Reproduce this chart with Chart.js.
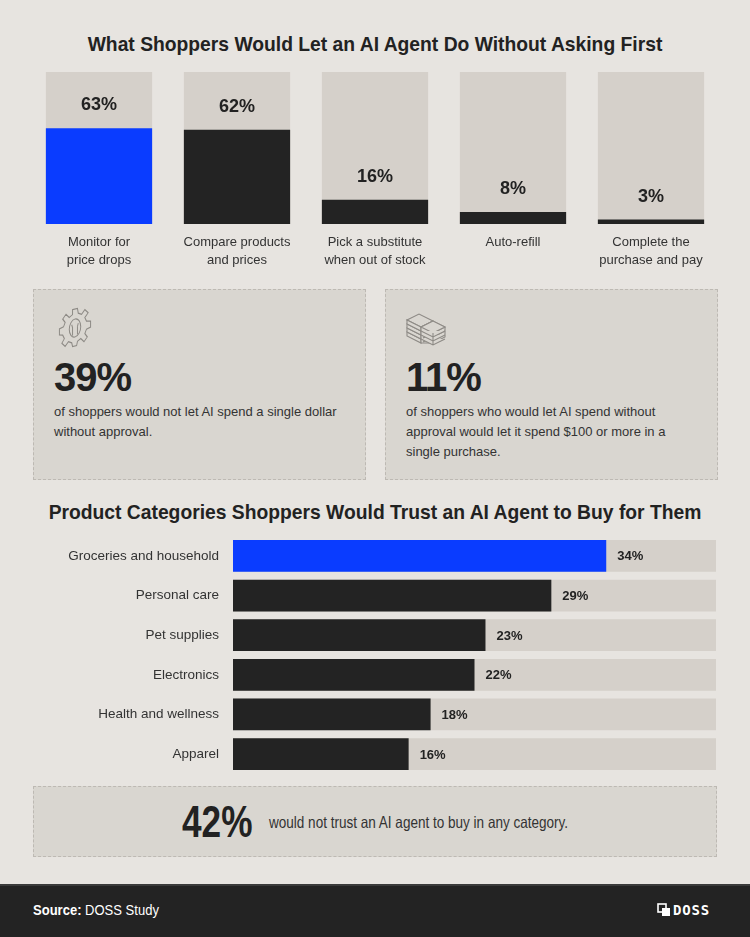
<!DOCTYPE html>
<html>
<head>
<meta charset="utf-8">
<script src="https://cdn.jsdelivr.net/npm/chart.js@4.4.1/dist/chart.umd.min.js"></script>
<style>
  html, body { margin:0; padding:0; }
  body { width:750px; height:937px; background:#e7e4e0; position:relative; overflow:hidden;
         font-family:"Liberation Sans", Arial, sans-serif; color:#222; }
  .abs { position:absolute; }
  .title { left:0; width:750px; text-align:center; font-weight:bold; font-size:19.3px; color:#222; }
  .box { background:#d9d6d0; border:1px dashed #bdb9b3; box-sizing:border-box; }
  .big { font-weight:bold; font-size:40px; color:#222; line-height:1; letter-spacing:-1px; }
  .sub { font-size:13px; color:#333; line-height:20px; }
  .narrow { transform-origin:0 50%; white-space:nowrap; }
  .footer { left:0; top:884px; width:750px; height:53px; background:#232323; border-top:2px solid #3a3a3a; box-sizing:border-box; }
</style>
</head>
<body>
<div class="abs title" style="top:34px;">What Shoppers Would Let an AI Agent Do Without Asking First</div>
<div class="abs" style="left:30px; top:60px; width:690px; height:218px;"><canvas id="c1"></canvas></div>

<div class="abs box" style="left:33px; top:289px; width:333px; height:191px;">
  <svg class="abs" style="left:21px; top:15px;" width="40" height="44" viewBox="0 0 40 44">
    <g transform="translate(20,22) skewY(-14) scale(0.82,1)" fill="none" stroke="#8d8a85" stroke-width="1.2">
      <path d="M-3,-18 L3,-18 L4,-13 L8,-11 L12,-15 L16,-11 L12,-7 L14,-3 L19,-2 L19,4 L14,5 L12,9 L15,13 L11,17 L7,13 L3,15 L2,19 L-3,19 L-4,15 L-8,13 L-12,17 L-16,13 L-13,9 L-15,5 L-19,4 L-19,-2 L-14,-3 L-12,-7 L-15,-11 L-11,-15 L-7,-11 L-3,-13 Z"/>
      <ellipse cx="0" cy="1" rx="7" ry="9"/>
      <path d="M-3,8 L-3,0 M3,8 L3,0 M-3,0 L-4,-3 M3,0 L4,-3"/>
    </g>
  </svg>
  <div class="abs big" style="left:20px; top:67px;">39%</div>
  <div class="abs sub" style="left:20px; top:112px; width:300px;">of shoppers would not let AI spend a single dollar without approval.</div>
</div>

<div class="abs box" style="left:385px; top:289px; width:333px; height:191px;">
  <svg class="abs" style="left:19px; top:22px;" width="44" height="36" viewBox="0 0 44 36">
    <g fill="#d9d6d0" stroke="#8d8a85" stroke-width="1.1">
      <path d="M2,20 L16,27 L16,31 L2,24 Z"/>
      <path d="M2,16 L16,23 L16,27 L2,20 Z"/>
      <path d="M2,12 L16,19 L16,23 L2,16 Z"/>
      <path d="M2,8 L14,2 L28,9 L16,15 Z"/>
      <path d="M2,8 L16,15 L16,19 L2,12 Z"/>
      <path d="M16,31 L16,15 L28,9 L40,15 L40,25 L28,31 Z" />
      <path d="M18,30 L40,19 M18,26 L40,15" />
      <path d="M16,15 L28,21 L40,15 L28,9 Z"/>
      <path d="M16,19 L28,25 L40,19 M16,23 L28,29 L40,23 M28,21 L28,33 M16,27 L28,33 L40,27"/>
    </g>
  </svg>
  <div class="abs big" style="left:20px; top:67px;">11%</div>
  <div class="abs sub" style="left:20px; top:112px; width:285px;">of shoppers who would let AI spend without approval would let it spend $100 or more in a single purchase.</div>
</div>

<div class="abs title" style="top:502px;">Product Categories Shoppers Would Trust an AI Agent to Buy for Them</div>
<div class="abs" style="left:30px; top:514px; width:690px; height:282px;"><canvas id="c2"></canvas></div>

<div class="abs box" style="left:33px; top:786px; width:684px; height:71px;">
  <div class="abs narrow" style="left:148px; top:13px; font-weight:bold; font-size:44px; line-height:44px; color:#222; transform:scaleX(0.8);">42%</div>
  <div class="abs narrow" style="left:235px; top:25px; font-size:16.5px; line-height:20px; color:#333; transform:scaleX(0.82);">would not trust an AI agent to buy in any category.</div>
</div>

<div class="abs footer">
  <div class="abs narrow" style="left:33px; top:16px; font-size:14px; color:#fff; transform:scaleX(0.93);"><b>Source:</b> DOSS Study</div>
  <svg class="abs" style="left:657px; top:17px;" width="14" height="14" viewBox="0 0 14 14">
    <rect x="1" y="1" width="8" height="8" fill="none" stroke="#fff" stroke-width="1.6"/>
    <rect x="5" y="5" width="8" height="8" fill="#fff"/>
  </svg>
  <div class="abs" style="left:673px; top:16px; font-size:14px; font-weight:bold; color:#fff; letter-spacing:0.8px; font-family:'DejaVu Sans Mono',monospace;">DOSS</div>
</div>

<script>
// ---- Data ----
const actionLabels = [["Monitor for","price drops"],["Compare products","and prices"],["Pick a substitute","when out of stock"],["Auto-refill"],["Complete the","purchase and pay"]];
const actionValues = [63, 62, 16, 8, 3];
const actionScaleMax = 100;

const categoryLabels = ["Groceries and household","Personal care","Pet supplies","Electronics","Health and wellness","Apparel"];
const categoryValues = [34, 29, 23, 22, 18, 16];
const categoryScaleMax = 44;

// ---- Styles ----
const BLUE = "#0a3cff", DARK = "#232323", TRACK = "#d5d0ca";
const FONT = "'Liberation Sans', Arial, sans-serif";
const barColors = (n) => Array.from({length:n}, (_, i) => i === 0 ? BLUE : DARK);

const valueLabelPlugin = {
  id: "valueLabels",
  afterDatasetsDraw(chart, args, opts) {
    const ctx = chart.ctx;
    const meta = chart.getDatasetMeta(1);
    const data = chart.data.datasets[1].data;
    ctx.save();
    ctx.fillStyle = "#222";
    ctx.font = "bold " + opts.size + "px " + FONT;
    meta.data.forEach((el, i) => {
      const txt = data[i] + "%";
      if (opts.horizontal) {
        ctx.textAlign = "left"; ctx.textBaseline = "middle";
        ctx.fillText(txt, el.x + 11, el.y + 1);
      } else {
        ctx.textAlign = "center"; ctx.textBaseline = "middle";
        ctx.fillText(txt, el.x, el.y - 23);
      }
    });
    ctx.restore();
  }
};

new Chart(document.getElementById("c1"), {
  type: "bar",
  data: {
    labels: actionLabels,
    datasets: [
      { data: actionValues.map(() => actionScaleMax), backgroundColor: TRACK, grouped: false, order: 2,
        categoryPercentage: 1, barPercentage: 0.77 },
      { data: actionValues, backgroundColor: barColors(actionValues.length), grouped: false, order: 1,
        categoryPercentage: 1, barPercentage: 0.77 }
    ]
  },
  options: {
    responsive: true, maintainAspectRatio: false, animation: false,
    layout: { padding: { top: 12, left: 0, right: 0, bottom: 0 } },
    plugins: { legend: { display: false }, tooltip: { enabled: false },
               valueLabels: { size: 18, horizontal: false } },
    scales: {
      x: { grid: { display: false, drawTicks: false }, border: { display: false },
           ticks: { color: "#333", font: { family: FONT, size: 13, lineHeight: 1.38 }, padding: 9, maxRotation: 0, autoSkip: false } },
      y: { display: false, min: 0, max: actionScaleMax }
    }
  },
  plugins: [valueLabelPlugin]
});

new Chart(document.getElementById("c2"), {
  type: "bar",
  data: {
    labels: categoryLabels,
    datasets: [
      { data: categoryValues.map(() => categoryScaleMax), backgroundColor: TRACK, grouped: false, order: 2,
        categoryPercentage: 1, barPercentage: 0.8 },
      { data: categoryValues, backgroundColor: barColors(categoryValues.length), grouped: false, order: 1,
        categoryPercentage: 1, barPercentage: 0.8 }
    ]
  },
  options: {
    indexAxis: "y",
    responsive: true, maintainAspectRatio: false, animation: false,
    layout: { padding: { top: 4, bottom: 4, left: 0, right: 4 } },
    plugins: { legend: { display: false }, tooltip: { enabled: false },
               valueLabels: { size: 13, horizontal: true } },
    scales: {
      x: { display: false, min: 0, max: categoryScaleMax },
      y: { grid: { display: false, drawTicks: false }, border: { display: false },
           ticks: { color: "#333", font: { family: FONT, size: 13.5 }, padding: 14 },
           afterFit(scale) { scale.width = 203; } }
    }
  },
  plugins: [valueLabelPlugin]
});
</script>
</body>
</html>
